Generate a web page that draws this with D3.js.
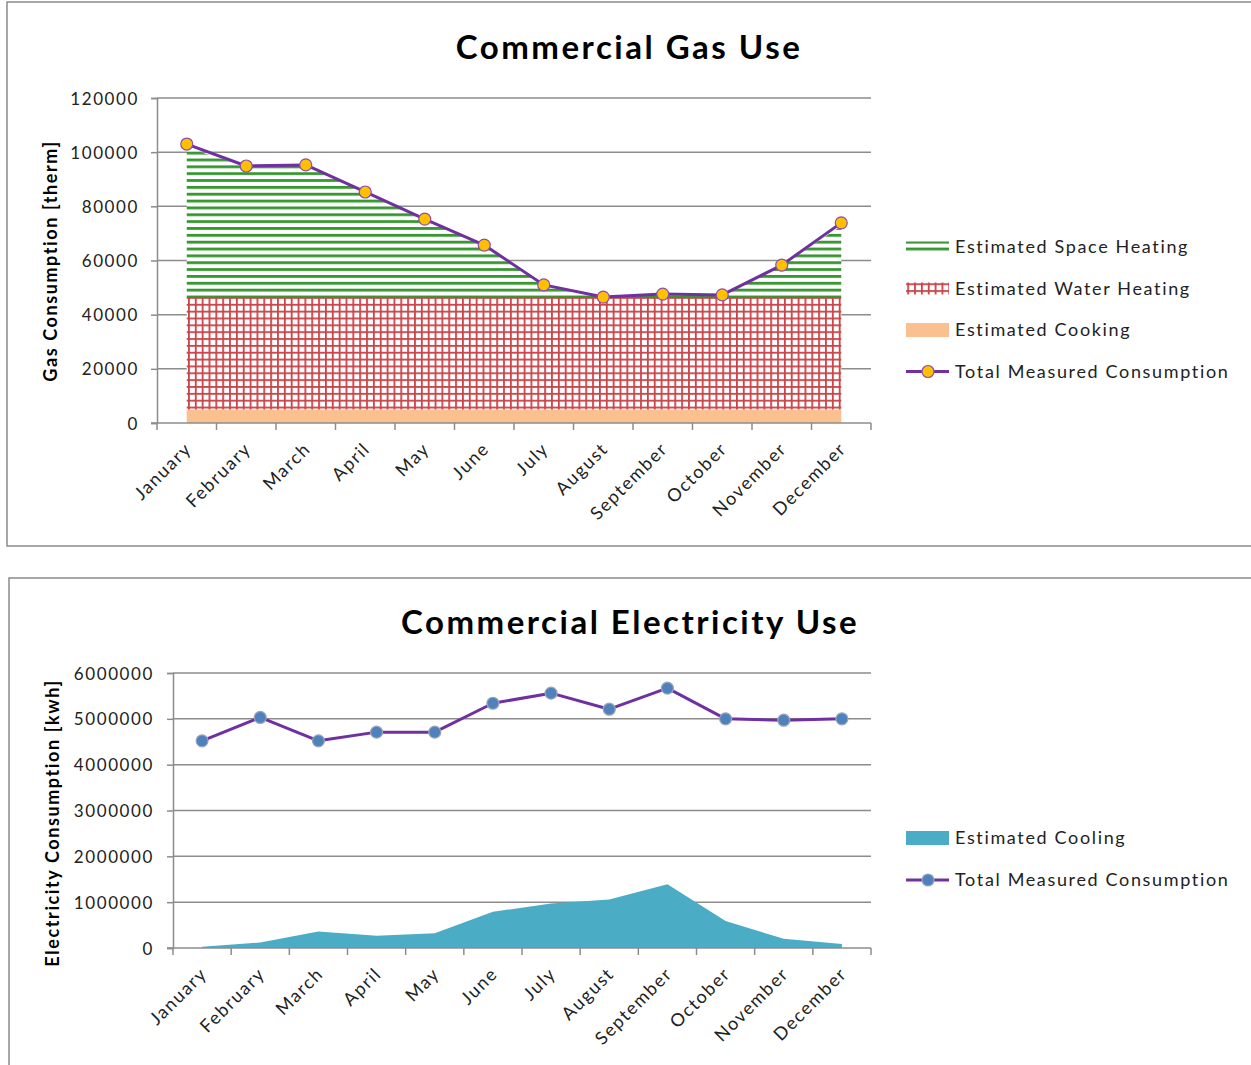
<!DOCTYPE html>
<html>
<head>
<meta charset="utf-8">
<script src="https://cdn.jsdelivr.net/npm/d3@7"></script>
<style>
  body { margin: 0; background: #fff; }
  svg { display: block; }
  text { font-family: Lato, "Open Sans", sans-serif; fill: #222; }
</style>
</head>
<body>
<div id="chart"></div>
<script>
const months = ["January", "February", "March", "April", "May", "June", "July",
  "August", "September", "October", "November", "December"];

// gas (therm)
const gasTotal = [103000, 94900, 95300, 85300, 75300, 65700, 51000, 46500, 47600, 47300, 58300, 73900];
const gasSpace = [55000, 48400, 48800, 38800, 28800, 19200, 4500, 0, 1100, 800, 11800, 26200];
const gasWater = [41500, 41500, 41500, 41500, 41500, 41500, 41500, 41500, 41500, 41500, 41500, 41500];
const gasCooking = [5000, 5000, 5000, 5000, 5000, 5000, 5000, 5000, 5000, 5000, 5000, 5000];
const gasTicks = [0, 20000, 40000, 60000, 80000, 100000, 120000];

// electricity (kwh)
const elecTotal = [4520000, 5030000, 4520000, 4710000, 4710000, 5340000, 5560000, 5210000, 5670000, 5000000, 4970000, 5000000];
const elecCooling = [30000, 120000, 360000, 270000, 320000, 790000, 970000, 1060000, 1390000, 590000, 200000, 90000];
const elecTicks = [0, 1000000, 2000000, 3000000, 4000000, 5000000, 6000000];

const W = 1251, H = 1065;
const purple = "#7030a0";
const gridColor = "#8c8c8c";

const svg = d3.select("#chart").append("svg")
  .attr("width", W).attr("height", H);

// patterns
const defs = svg.append("defs");
const hp = defs.append("pattern")
  .attr("id", "hLines").attr("patternUnits", "userSpaceOnUse")
  .attr("width", 8).attr("height", 6.85).attr("y", 1);
hp.append("rect").attr("width", 8).attr("height", 6.85).attr("fill", "#fff");
hp.append("rect").attr("y", 0).attr("width", 8).attr("height", 2.8).attr("fill", "#36962f");

const gp = defs.append("pattern")
  .attr("id", "grid").attr("patternUnits", "userSpaceOnUse")
  .attr("width", 6.85).attr("height", 6.85).attr("x", 188).attr("y", 297);
gp.append("rect").attr("width", 6.85).attr("height", 6.85).attr("fill", "#fff");
gp.append("rect").attr("width", 6.85).attr("height", 1.8).attr("fill", "#c94448");
gp.append("rect").attr("width", 1.8).attr("height", 6.85).attr("fill", "#c94448");

function frame(x, y, w, h) {
  svg.append("rect").attr("x", x).attr("y", y).attr("width", w).attr("height", h)
    .attr("fill", "none").attr("stroke", "#8a8a8a").attr("stroke-width", 1.5);
}

function drawChart(cfg) {
  const x = d3.scaleBand().domain(months).range([cfg.left, cfg.right]);
  const y = d3.scaleLinear().domain([0, d3.max(cfg.ticks)]).range([cfg.bottom, cfg.top]);
  const cx = m => x(m) + x.bandwidth() / 2;
  const g = svg.append("g");

  // title
  g.append("text")
    .attr("x", cfg.titleX).attr("y", cfg.titleY)
    .attr("text-anchor", "middle")
    .style("font-size", "33px").style("font-weight", "bold")
    .style("letter-spacing", "2.5px")
    .style("fill", "#000")
    .text(cfg.title);

  // gridlines
  g.append("g").selectAll("line").data(cfg.ticks.slice(1)).join("line")
    .attr("x1", cfg.left).attr("x2", cfg.right)
    .attr("y1", d => y(d)).attr("y2", d => y(d))
    .attr("stroke", gridColor).attr("stroke-width", 1.5);

  // stacked areas (bottom -> top)
  let base = months.map(() => 0);
  cfg.areas.forEach(a => {
    const lo = base.slice();
    const hi = a.values.map((v, i) => lo[i] + v);
    const area = d3.area()
      .x((d, i) => cx(months[i]))
      .y0((d, i) => y(lo[i]))
      .y1((d, i) => y(hi[i]));
    g.append("path").datum(hi).attr("d", area).attr("fill", a.fill);
    base = hi;
  });

  // y axis
  const yAxis = d3.axisLeft(y).tickValues(cfg.ticks).tickSize(6).tickPadding(cfg.tickPad)
    .tickFormat(d3.format("d"));
  const ya = g.append("g").attr("transform", `translate(${cfg.left},0)`).call(yAxis);
  ya.select(".domain").attr("stroke", gridColor).attr("stroke-width", 1.5);
  ya.selectAll(".tick line").attr("stroke", gridColor).attr("stroke-width", 1.5);
  ya.selectAll(".tick text").style("font-size", "17px").style("letter-spacing", "1.6px")
    .style("fill", "#222").attr("dy", "0.36em");

  // x axis baseline + ticks at band boundaries
  g.append("line").attr("x1", cfg.left - 6).attr("x2", cfg.right)
    .attr("y1", cfg.bottom).attr("y2", cfg.bottom)
    .attr("stroke", gridColor).attr("stroke-width", 1.5);
  g.append("g").selectAll("line").data(d3.range(months.length + 1)).join("line")
    .attr("x1", i => cfg.left + i * x.step()).attr("x2", i => cfg.left + i * x.step())
    .attr("y1", cfg.bottom).attr("y2", cfg.bottom + 7)
    .attr("stroke", gridColor).attr("stroke-width", 1.5);

  g.append("g").selectAll("text").data(months).join("text")
    .attr("transform", m => `translate(${cx(m) + 6},${cfg.bottom + 27}) rotate(-45)`)
    .attr("text-anchor", "end")
    .style("font-size", "18px").style("letter-spacing", "1.6px")
    .text(m => m);

  // y title
  g.append("text")
    .attr("transform", `translate(${cfg.yTitleX},${cfg.yTitleY}) rotate(-90)`)
    .attr("text-anchor", "middle")
    .style("font-size", "18px").style("font-weight", "bold").style("letter-spacing", "1.6px")
    .style("fill", "#000")
    .text(cfg.yTitle);

  // total line
  const line = d3.line().x((d, i) => cx(months[i])).y(d => y(d));
  g.append("path").datum(cfg.total).attr("d", line)
    .attr("fill", "none").attr("stroke", purple).attr("stroke-width", 3)
    .attr("stroke-linejoin", "round");
  g.append("g").selectAll("circle").data(cfg.total).join("circle")
    .attr("cx", (d, i) => cx(months[i])).attr("cy", d => y(d))
    .attr("r", 6).attr("fill", cfg.marker).attr("stroke", cfg.markerStroke).attr("stroke-width", 1.2);

  // legend
  const lg = g.append("g");
  cfg.legend.forEach((it, i) => {
    const ly = cfg.legendY + i * cfg.legendGap;
    if (it.type === "line") {
      lg.append("line").attr("x1", 906).attr("x2", 949).attr("y1", ly).attr("y2", ly)
        .attr("stroke", purple).attr("stroke-width", 3);
      lg.append("circle").attr("cx", 928).attr("cy", ly).attr("r", 6)
        .attr("fill", cfg.marker).attr("stroke", cfg.markerStroke).attr("stroke-width", 1.2);
    } else {
      lg.append("rect").attr("x", 906).attr("y", ly - it.h / 2).attr("width", 43).attr("height", it.h)
        .attr("fill", it.fill);
    }
    lg.append("text").attr("x", 955).attr("y", ly).attr("dy", "0.36em")
      .style("font-size", "18px").style("letter-spacing", "1.65px")
      .text(it.name);
  });
}

frame(7, 2, 1260, 544);
frame(9, 578, 1260, 500);

drawChart({
  title: "Commercial Gas Use", titleX: 629, titleY: 59,
  left: 157, right: 871, top: 98, bottom: 423, ticks: gasTicks, tickPad: 12,
  yTitle: "Gas Consumption [therm]", yTitleX: 57, yTitleY: 261,
  areas: [
    { values: gasCooking, fill: "#fac08f" },
    { values: gasWater, fill: "url(#grid)" },
    { values: gasSpace, fill: "url(#hLines)" }
  ],
  total: gasTotal, marker: "#ffc000", markerStroke: "#8e4bb0",
  legendY: 247, legendGap: 41.5,
  legend: [
    { name: "Estimated Space Heating", fill: "url(#hLines)", h: 11 },
    { name: "Estimated Water Heating", fill: "url(#grid)", h: 12 },
    { name: "Estimated Cooking", fill: "#fac08f", h: 14 },
    { name: "Total Measured Consumption", type: "line" }
  ]
});

drawChart({
  title: "Commercial Electricity Use", titleX: 630, titleY: 634,
  left: 173, right: 871, top: 673, bottom: 948, ticks: elecTicks, tickPad: 13,
  yTitle: "Electricity Consumption [kwh]", yTitleX: 59, yTitleY: 823,
  areas: [
    { values: elecCooling, fill: "#4bacc6" }
  ],
  total: elecTotal, marker: "#4f81bd", markerStroke: "#9aa6b8",
  legendY: 838, legendGap: 42,
  legend: [
    { name: "Estimated Cooling", fill: "#4bacc6", h: 14 },
    { name: "Total Measured Consumption", type: "line" }
  ]
});
</script>
</body>
</html>
